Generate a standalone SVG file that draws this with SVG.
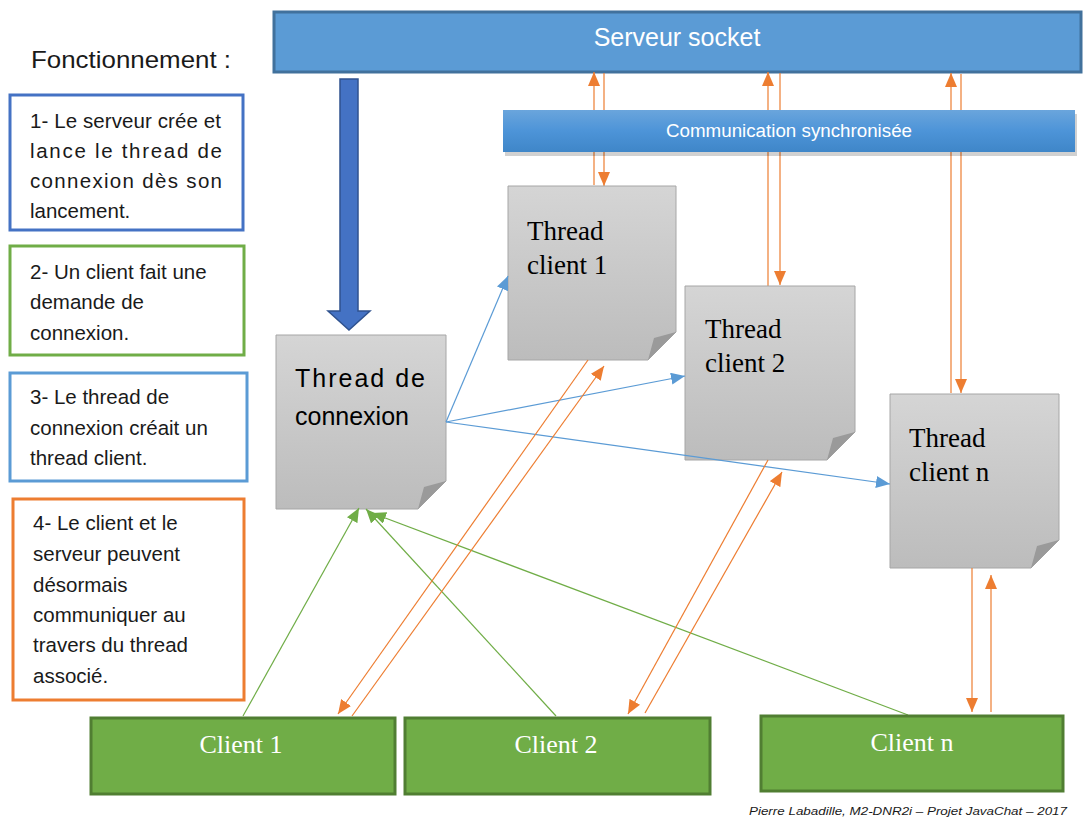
<svg xmlns="http://www.w3.org/2000/svg" width="1087" height="825" viewBox="0 0 1087 825">
<defs>
<linearGradient id="gray" x1="0" y1="0" x2="0" y2="1"><stop offset="0" stop-color="#d5d5d5"/><stop offset="1" stop-color="#bcbcbc"/></linearGradient>
<linearGradient id="comm" x1="0" y1="0" x2="0" y2="1"><stop offset="0" stop-color="#6aa5dc"/><stop offset="0.5" stop-color="#4d94d8"/><stop offset="1" stop-color="#3f86c8"/></linearGradient>
<marker id="ao" markerUnits="userSpaceOnUse" markerWidth="14" markerHeight="12" viewBox="0 0 14 12" refX="14" refY="6" orient="auto"><path d="M0,0 L14,6 L0,12 Z" fill="#ed7d31"/></marker>
<marker id="ab" markerUnits="userSpaceOnUse" markerWidth="14" markerHeight="12" viewBox="0 0 14 12" refX="14" refY="6" orient="auto"><path d="M0,0 L14,6 L0,12 Z" fill="#5b9bd5"/></marker>
<marker id="ag" markerUnits="userSpaceOnUse" markerWidth="14" markerHeight="12" viewBox="0 0 14 12" refX="14" refY="6" orient="auto"><path d="M0,0 L14,6 L0,12 Z" fill="#70ad47"/></marker>
</defs>
<style>
.sans{font-family:"Liberation Sans",Arial,sans-serif}
.serif{font-family:"Liberation Serif","Times New Roman",serif}
.doc{fill:url(#gray);stroke:#a6a6a6;stroke-width:1}
.fold{fill:#9a9a9a}
.dtxt{font-size:27px;fill:#000}
.client{fill:#70ad47;stroke:#507e32;stroke-width:3}
.ctxt{font-size:26px;fill:#fff;text-anchor:middle}
.box{fill:#fff;stroke-width:3}
.btxt{font-size:20.5px;fill:#1a1a1a}
.o{stroke:#ed7d31;stroke-width:1.2;fill:none}
.b{stroke:#5b9bd5;stroke-width:1.2;fill:none}
.g{stroke:#70ad47;stroke-width:1.2;fill:none}
</style>
<rect width="1087" height="825" fill="#fff"/>

<g id="title"><text class="sans" x="31" y="68" font-size="24" fill="#1a1a1a" textLength="200" lengthAdjust="spacingAndGlyphs">Fonctionnement :</text></g>

<g id="step1">
<rect class="box" x="10" y="95" width="233" height="135" stroke="#4472c4"/>
<text class="sans btxt"><tspan x="30" y="128" textLength="191" lengthAdjust="spacing">1- Le serveur crée et</tspan><tspan x="30" y="158" textLength="192" lengthAdjust="spacing">lance le thread de</tspan><tspan x="30" y="188" textLength="192" lengthAdjust="spacing">connexion dès son</tspan><tspan x="30" y="218">lancement.</tspan></text>
</g>
<g id="step2">
<rect class="box" x="10" y="246" width="234" height="109" stroke="#70ad47"/>
<text class="sans btxt"><tspan x="30" y="279">2- Un client fait une</tspan><tspan x="30" y="309">demande de</tspan><tspan x="30" y="340">connexion.</tspan></text>
</g>
<g id="step3">
<rect class="box" x="10" y="373" width="237" height="108" stroke="#5b9bd5"/>
<text class="sans btxt"><tspan x="30" y="404">3- Le thread de</tspan><tspan x="30" y="435">connexion créait un</tspan><tspan x="30" y="465">thread client.</tspan></text>
</g>
<g id="step4">
<rect class="box" x="13" y="499" width="231" height="201" stroke="#ed7d31"/>
<text class="sans btxt"><tspan x="33" y="530">4- Le client et le</tspan><tspan x="33" y="561">serveur peuvent</tspan><tspan x="33" y="592">désormais</tspan><tspan x="33" y="622">communiquer au</tspan><tspan x="33" y="652">travers du thread</tspan><tspan x="33" y="683">associé.</tspan></text>
</g>

<g id="serveur">
<rect x="274" y="12" width="807" height="60" fill="#5b9bd5" stroke="#41719c" stroke-width="3"/>
<text class="sans" x="677" y="46" font-size="25" fill="#fff" text-anchor="middle">Serveur socket</text>
</g>

<g id="connectors">
<line class="o" x1="594" y1="185" x2="594" y2="72" marker-end="url(#ao)"/>
<line class="o" x1="604" y1="73" x2="604" y2="186" marker-end="url(#ao)"/>
<line class="o" x1="768" y1="286" x2="768" y2="72" marker-end="url(#ao)"/>
<line class="o" x1="780" y1="73" x2="780" y2="285" marker-end="url(#ao)"/>
<line class="o" x1="951" y1="393" x2="951" y2="73" marker-end="url(#ao)"/>
<line class="o" x1="961" y1="74" x2="961" y2="393" marker-end="url(#ao)"/>
</g>

<g id="communication">
<rect x="505" y="114" width="572" height="42" fill="#000" opacity="0.18"/>
<rect x="503" y="110" width="572" height="42" fill="url(#comm)"/>
<text class="sans" x="789" y="137" font-size="18" fill="#fff" text-anchor="middle" textLength="246" lengthAdjust="spacingAndGlyphs">Communication synchronisée</text>
</g>

<g id="bigarrow">
<path d="M340,79 H358 V311 H370 L349,330 L328,311 H340 Z" fill="#4472c4" stroke="#2f528f" stroke-width="1.5"/>
</g>

<g id="thread-connexion">
<path class="doc" d="M276,335 H446 V481 L418,509 H276 Z"/>
<path class="fold" d="M446,481 L418,509 L424,487 Z"/>
<text class="sans" font-size="25" fill="#000"><tspan x="295" y="387" textLength="130" lengthAdjust="spacing">Thread de</tspan><tspan x="295" y="425">connexion</tspan></text>
</g>
<g id="thread-client1">
<path class="doc" d="M508,186 H676 V332 L648,360 H508 Z"/>
<path class="fold" d="M676,332 L648,360 L654,338 Z"/>
<text class="serif dtxt"><tspan x="527" y="240">Thread</tspan><tspan x="527" y="274">client 1</tspan></text>
</g>
<g id="thread-client2">
<path class="doc" d="M685,286 H855 V432 L827,460 H685 Z"/>
<path class="fold" d="M855,432 L827,460 L833,438 Z"/>
<text class="serif dtxt"><tspan x="705" y="338">Thread</tspan><tspan x="705" y="372">client 2</tspan></text>
</g>
<g id="thread-clientn">
<path class="doc" d="M890,394 H1059 V540 L1031,568 H890 Z"/>
<path class="fold" d="M1059,540 L1031,568 L1037,546 Z"/>
<text class="serif dtxt"><tspan x="909" y="447">Thread</tspan><tspan x="909" y="481">client n</tspan></text>
</g>

<g id="connectors2">
<line class="b" x1="446" y1="422" x2="508" y2="276" marker-end="url(#ab)"/>
<line class="b" x1="446" y1="422" x2="685" y2="376" marker-end="url(#ab)"/>
<line class="b" x1="446" y1="422" x2="890" y2="484" marker-end="url(#ab)"/>
<line class="g" x1="243" y1="716" x2="359" y2="508" marker-end="url(#ag)"/>
<line class="g" x1="556" y1="716" x2="366" y2="509" marker-end="url(#ag)"/>
<line class="g" x1="908" y1="715" x2="372" y2="513" marker-end="url(#ag)"/>
<line class="o" x1="588" y1="360" x2="338" y2="714" marker-end="url(#ao)"/>
<line class="o" x1="352" y1="716" x2="604" y2="366" marker-end="url(#ao)"/>
<line class="o" x1="768" y1="460" x2="628" y2="714" marker-end="url(#ao)"/>
<line class="o" x1="645" y1="713" x2="782" y2="472" marker-end="url(#ao)"/>
<line class="o" x1="972" y1="568" x2="972" y2="712" marker-end="url(#ao)"/>
<line class="o" x1="991" y1="712" x2="991" y2="575" marker-end="url(#ao)"/>
</g>

<g id="client1"><rect class="client" x="91" y="718" width="304" height="76"/><text class="serif ctxt" x="241" y="753">Client 1</text></g>
<g id="client2"><rect class="client" x="405" y="718" width="305" height="76"/><text class="serif ctxt" x="556" y="753">Client 2</text></g>
<g id="clientn"><rect class="client" x="761" y="716" width="302" height="75"/><text class="serif ctxt" x="912" y="751">Client n</text></g>

<g id="footer"><text class="sans" x="749" y="815" font-size="11.5" font-style="italic" fill="#1a1a1a" textLength="318" lengthAdjust="spacingAndGlyphs">Pierre Labadille, M2-DNR2i – Projet JavaChat – 2017</text></g>
</svg>
